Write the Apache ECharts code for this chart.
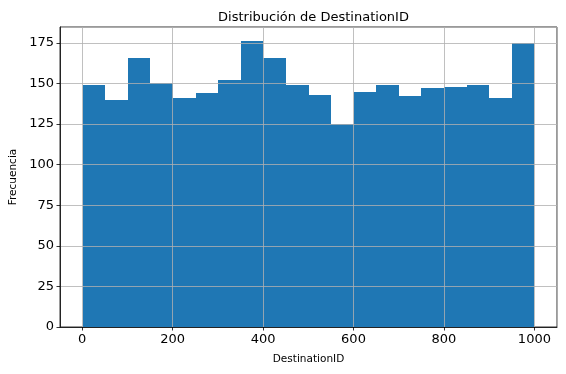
<!DOCTYPE html>
<html>
<head>
<meta charset="utf-8">
<script src="https://cdn.jsdelivr.net/npm/echarts@6/dist/echarts.min.js"></script>
<style>
html,body{margin:0;padding:0;background:#fff;}
#c{width:566px;height:374px;}
</style>
</head>
<body>
<div id="c"></div>
<script>
// Histogram of DestinationID: 20 bins from 1 to 1000
const binMin = 1;
const binMax = 1000;
const counts = [149, 140, 166, 150, 141, 144, 152, 176, 166, 149, 143, 125, 145, 149, 142, 147, 148, 149, 141, 175];
const xTickStep = 200;
const yTickStep = 25;
const titleText = 'Distribución de DestinationID';
const xName = 'DestinationID';
const yName = 'Frecuencia';

const nBins = counts.length;
const binW = (binMax - binMin) / nBins;
const bins = counts.map((c, i) => [binMin + i * binW, binMin + (i + 1) * binW, c]);
const span = binMax - binMin;
const xMin = binMin - 0.05 * span;
const xMax = binMax + 0.05 * span;
const yMax = Math.max(...counts) * 1.05;

const font = 'DejaVu Sans';
const chart = echarts.init(document.getElementById('c'), null, {renderer: 'canvas'});
chart.setOption({
  animation: false,
  backgroundColor: '#fff',
  title: {
    text: titleText, left: 308.5, top: 6, textAlign: 'center',
    textStyle: {fontFamily: font, fontSize: 13, fontWeight: 'normal', color: '#000'}
  },
  grid: {left: 60, right: 9, top: 27, bottom: 47, show: true, borderColor: '#000', borderWidth: 0.8,
    containLabel: false, outerBoundsMode: 'none'},
  xAxis: {
    type: 'value', min: xMin, max: xMax, z: 3,
    minInterval: xTickStep, maxInterval: xTickStep,
    name: xName, nameLocation: 'middle', nameGap: 27,
    nameTextStyle: {fontFamily: font, fontSize: 10.5, color: '#000'},
    axisLine: {show: true, onZero: false, lineStyle: {color: '#000', width: 0.8}},
    axisTick: {show: true, length: 3.5, lineStyle: {color: '#000', width: 0.8}},
    axisLabel: {fontFamily: font, fontSize: 13, color: '#000', margin: 6,
      showMinLabel: false, showMaxLabel: false, formatter: v => String(v)},
    splitLine: {show: true, lineStyle: {color: '#b0b0b0', width: 0.8}}
  },
  yAxis: {
    type: 'value', min: 0, max: yMax, z: 3,
    minInterval: yTickStep, maxInterval: yTickStep,
    name: yName, nameLocation: 'middle', nameGap: 40, nameRotate: 90,
    nameTextStyle: {fontFamily: font, fontSize: 10.5, color: '#000'},
    axisLine: {show: true, onZero: false, lineStyle: {color: '#000', width: 0.8}},
    axisTick: {show: true, length: 3.5, lineStyle: {color: '#000', width: 0.8}},
    axisLabel: {fontFamily: font, fontSize: 13, color: '#000', margin: 6,
      showMaxLabel: false, formatter: v => String(v)},
    splitLine: {show: true, lineStyle: {color: '#b0b0b0', width: 0.8}}
  },
  series: [{
    type: 'custom',
    z: 2,
    data: bins,
    encode: {x: [0, 1], y: 2},
    renderItem: function (params, api) {
      const p0 = api.coord([api.value(0), api.value(2)]);
      const p1 = api.coord([api.value(1), 0]);
      const x0 = Math.round(p0[0]);
      const x1 = Math.round(p1[0]);
      const y0 = Math.round(p0[1]);
      const y1 = Math.round(p1[1]);
      return {
        type: 'rect',
        shape: {x: x0, y: y0, width: x1 - x0, height: y1 - y0},
        style: {fill: '#1f77b4'}
      };
    }
  }]
});
</script>
</body>
</html>
